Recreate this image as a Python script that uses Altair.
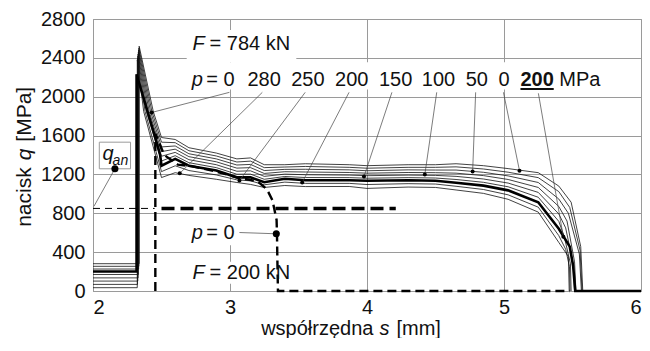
import altair as alt
import pandas as pd

# ---------------- data ----------------
# common s-grid of the plateau part of the F = 784 kN curves
S_MID = [2.50, 2.60, 2.70, 2.90, 3.05, 3.15, 3.25, 3.40, 3.55, 3.87, 4.00, 4.30, 4.50, 4.65, 4.85, 5.03, 5.25, 5.40]

Q_T  = [1580, 1560, 1475, 1420, 1360, 1370, 1300, 1300, 1310, 1300, 1290, 1300, 1300, 1310, 1290, 1260, 1218, 1080]
Q_L1 = [1532, 1527, 1444, 1390, 1328, 1337, 1270, 1276, 1282, 1273, 1264, 1273, 1273, 1278, 1256, 1223, 1167, 1023]
Q_L2 = [1483, 1493, 1413, 1360, 1297, 1303, 1240, 1252, 1253, 1247, 1238, 1247, 1245, 1245, 1222, 1185, 1117, 947]
Q_L3 = [1435, 1460, 1383, 1330, 1265, 1270, 1210, 1228, 1225, 1220, 1213, 1220, 1218, 1213, 1188, 1148, 1066, 870]
Q_L4 = [1387, 1427, 1352, 1300, 1233, 1237, 1180, 1203, 1197, 1193, 1187, 1193, 1190, 1180, 1153, 1111, 1015, 793]
Q_L5 = [1338, 1393, 1321, 1270, 1202, 1203, 1150, 1179, 1168, 1167, 1161, 1167, 1163, 1148, 1119, 1073, 965, 717]
Q_K  = [1290, 1360, 1290, 1240, 1170, 1170, 1120, 1155, 1140, 1140, 1135, 1140, 1135, 1115, 1085, 1036, 914, 640]
Q_L7 = [1229, 1289, 1240, 1195, 1144, 1134, 1093, 1121, 1108, 1108, 1096, 1105, 1101, 1078, 1045, 990, 863, 570]
Q_B  = [1168, 1218, 1190, 1150, 1117, 1097, 1066, 1086, 1075, 1076, 1056, 1070, 1066, 1040, 1005, 944, 812, 500]

CURVE_NAMES = ["T", "L1", "L2", "L3", "L4", "L5", "K", "L7", "B"]
LEFT_LEVEL  = [281, 254, 226, 170, 135, 102, 200, 68, 34]
JUMP_S      = [2.337, 2.335, 2.333, 2.331, 2.329, 2.327, 2.318, 2.325, 2.323]
PEAK_Q      = [2520, 2500, 2480, 2460, 2440, 2420, 2230, 2400, 2380]
FALL_PTS = [
    [(2.44, 1848)], [(2.43, 1848)], [(2.42, 1848)], [(2.41, 1848)],
    [(2.40, 1848)], [(2.39, 1848)], [(2.45, 1600), (2.49, 1400)],
    [(2.38, 1848)], [(2.37, 1848)],
]
MID_Q = [Q_T, Q_L1, Q_L2, Q_L3, Q_L4, Q_L5, Q_K, Q_L7, Q_B]
END_PTS = [
    [(5.49, 914), (5.56, 457), (5.575, 0)],
    [(5.48, 860), (5.555, 420), (5.57, 0)],
    [(5.47, 800), (5.55, 380), (5.565, 0)],
    [(5.46, 720), (5.515, 300), (5.525, 0)],
    [(5.45, 650), (5.505, 280), (5.515, 0)],
    [(5.44, 560), (5.485, 280), (5.49, 0)],
    [(5.48, 457), (5.505, 254), (5.52, 0), (6.0, 0)],
    [(5.45, 430), (5.478, 250), (5.482, 0)],
    [(5.47, 355), (5.476, 0)],
]

# F = 200 kN, p = 0 curve (dashed)
DASH_S = [2.455, 2.455, 2.52, 2.62, 2.72, 2.90, 3.06, 3.20, 3.27, 3.31, 3.34, 3.343, 3.345, 3.35, 5.48]
DASH_Q = [0, 1620, 1400, 1300, 1285, 1230, 1165, 1130, 1046, 934, 731, 589, 386, 0, 0]

# q_an level
QAN_LEVEL = 850
QAN_THICK_S = [2.50, 4.21]
QAN_THIN_S = [2.0, 2.45]

# leader lines: label end -> dot on curve
LEAD_S0 = [2.996, 3.236, 3.549, 3.869, 4.182, 4.509, 4.793, 4.996, 5.251]
LEAD_Q0 = [2045, 2045, 2045, 2045, 2045, 2045, 2045, 2045, 2035]
DOT_S = [2.429, 2.633, 3.069, 3.527, 3.978, 4.422, 4.771, 5.113, 5.433]
DOT_Q = [1838, 1211, 1137, 1117, 1178, 1198, 1229, 1239, 558]

BIG_DOT_S = [2.16, 3.338]
BIG_DOT_Q = [1258, 589]
BIG_LEAD_S0 = [2.16, 3.069]
BIG_LEAD_Q0 = [1258, 602]
BIG_LEAD_S1 = [2.007, 3.338]
BIG_LEAD_Q1 = [872, 589]

# white backgrounds behind labels
BG_S1 = [2.684, 2.655, 2.70, 2.70]
BG_S2 = [3.484, 5.709, 3.45, 3.07]
BG_Q1 = [2354, 2075, 75, 470]
BG_Q2 = [2688, 2354, 300, 730]

# text labels
REG_TEXT = ["= 784 kN", "= 0", "280", "250", "200", "150", "100", "50", "0", "MPa", "= 0", "= 200 kN"]
REG_S    = [2.851, 2.826, 3.127, 3.447, 3.767, 4.087, 4.40, 4.72, 4.96, 5.404, 2.826, 2.851]
REG_Q    = [2486, 2107, 2107, 2107, 2107, 2107, 2107, 2107, 2107, 2107, 531, 119]
ITA_TEXT = ["F", "p", "p", "F", "q"]
ITA_S    = [2.727, 2.72, 2.72, 2.727, 2.07]
ITA_Q    = [2486, 2107, 531, 119, 1352]
BOLD_TEXT = ["200"]
BOLD_S = [5.12]
BOLD_Q = [2107]
SUB_TEXT = ["an"]
SUB_S = [2.143]
SUB_Q = [1302]

# axis titles (pieces, to allow italic symbols)
XT_LEFT, XT_SYM, XT_RIGHT = "współrzędna", "s", "[mm]"
XT_S = [4.047, 4.127, 4.215]
XT_Q = -458
YT_LEFT, YT_SYM, YT_RIGHT = "nacisk", "q", "[MPa]"
YT_S = 1.549
YT_Q = [1273, 1405, 1537]

FONT = "Liberation Sans"
GRID = "#9a9a9a"

# ---------------- build tables ----------------
rows = []
for k, name in enumerate(CURVE_NAMES):
    pts = [(2.0, LEFT_LEVEL[k]), (JUMP_S[k], LEFT_LEVEL[k]), (JUMP_S[k], PEAK_Q[k])]
    pts += FALL_PTS[k] + list(zip(S_MID, MID_Q[k])) + END_PTS[k]
    for i, (s, q) in enumerate(pts):
        rows.append({"curve": name, "i": i, "s": s, "q": q})
curves = pd.DataFrame(rows)
thin = curves[curves.curve != "K"]
bold = curves[curves.curve == "K"]

dash = pd.DataFrame({"s": DASH_S, "q": DASH_Q, "i": range(len(DASH_S))})
qan_thick = pd.DataFrame({"s": QAN_THICK_S, "q": [QAN_LEVEL] * 2})
qan_thin = pd.DataFrame({"s": QAN_THIN_S, "q": [QAN_LEVEL] * 2})
leads = pd.DataFrame({"s": LEAD_S0, "q": LEAD_Q0, "s2": DOT_S, "q2": DOT_Q})
big_leads = pd.DataFrame({"s": BIG_LEAD_S0, "q": BIG_LEAD_Q0, "s2": BIG_LEAD_S1, "q2": BIG_LEAD_Q1})
dots = pd.DataFrame({"s": DOT_S, "q": DOT_Q})
big_dots = pd.DataFrame({"s": BIG_DOT_S, "q": BIG_DOT_Q})
bgs = pd.DataFrame({"s": BG_S1, "s2": BG_S2, "q": BG_Q1, "q2": BG_Q2})
qan_box = pd.DataFrame({"s": [2.046], "s2": [2.274], "q": [1258], "q2": [1532]})
reg = pd.DataFrame({"s": REG_S, "q": REG_Q, "t": REG_TEXT})
ita = pd.DataFrame({"s": ITA_S, "q": ITA_Q, "t": ITA_TEXT})
bld = pd.DataFrame({"s": BOLD_S, "q": BOLD_Q, "t": BOLD_TEXT})
sub = pd.DataFrame({"s": SUB_S, "q": SUB_Q, "t": SUB_TEXT})
underline = pd.DataFrame({"s": [5.12], "s2": [5.363], "q": [2080]})

xt_l = pd.DataFrame({"s": [XT_S[0]], "q": [XT_Q], "t": [XT_LEFT]})
xt_m = pd.DataFrame({"s": [XT_S[1]], "q": [XT_Q], "t": [XT_SYM]})
xt_r = pd.DataFrame({"s": [XT_S[2]], "q": [XT_Q], "t": [XT_RIGHT]})
yt_l = pd.DataFrame({"s": [YT_S], "q": [YT_Q[0]], "t": [YT_LEFT]})
yt_m = pd.DataFrame({"s": [YT_S], "q": [YT_Q[1]], "t": [YT_SYM]})
yt_r = pd.DataFrame({"s": [YT_S], "q": [YT_Q[2]], "t": [YT_RIGHT]})

# ---------------- encodings ----------------
X = alt.X("s:Q", scale=alt.Scale(domain=[2, 6], nice=False, zero=False),
          axis=alt.Axis(values=[2, 2.5, 3, 3.5, 4, 4.5, 5, 5.5, 6], format="d",
                        labelExpr="datum.value % 1 === 0 ? datum.label : ''",
                        title="", labelPadding=6))
Y = alt.Y("q:Q", scale=alt.Scale(domain=[0, 2800], nice=False),
          axis=alt.Axis(values=list(range(0, 2801, 400)), format="d", title="", labelPadding=8))

bg_layer = alt.Chart(bgs).mark_rect(fill="white").encode(x=X, x2="s2", y=Y, y2="q2")
thin_layer = alt.Chart(thin).mark_line(color="#111", strokeWidth=0.8).encode(
    x=X, y=Y, detail="curve:N", order="i:Q")
bold_layer = alt.Chart(bold).mark_line(color="#000", strokeWidth=2.6).encode(x=X, y=Y, order="i:Q")
dash_layer = alt.Chart(dash).mark_line(color="#000", strokeWidth=2.4, strokeDash=[9, 5]).encode(
    x=X, y=Y, order="i:Q")
qan_thick_layer = alt.Chart(qan_thick).mark_line(color="#000", strokeWidth=3.6, strokeDash=[13, 6]).encode(x=X, y=Y)
qan_thin_layer = alt.Chart(qan_thin).mark_line(color="#000", strokeWidth=1, strokeDash=[7, 5]).encode(x=X, y=Y)
lead_layer = alt.Chart(leads).mark_rule(color="#444", strokeWidth=0.7).encode(x=X, x2="s2", y=Y, y2="q2")
big_lead_layer = alt.Chart(big_leads).mark_rule(color="#444", strokeWidth=0.7).encode(x=X, x2="s2", y=Y, y2="q2")
dot_layer = alt.Chart(dots).mark_circle(color="#000", size=16, opacity=1).encode(x=X, y=Y)
qan_box_layer = alt.Chart(qan_box).mark_rect(fill="white", stroke=GRID, strokeWidth=1).encode(
    x=X, x2="s2", y=Y, y2="q2")
big_dot_layer = alt.Chart(big_dots).mark_circle(color="#000", size=50, opacity=1).encode(x=X, y=Y)

tkw = dict(font=FONT, baseline="alphabetic", color="#111")
reg_layer = alt.Chart(reg).mark_text(fontSize=20, align="left", **tkw).encode(x=X, y=Y, text="t:N")
ita_layer = alt.Chart(ita).mark_text(fontSize=20, fontStyle="italic", align="left", **tkw).encode(
    x=X, y=Y, text="t:N")
bld_layer = alt.Chart(bld).mark_text(fontSize=20, fontWeight="bold", align="left", **tkw).encode(
    x=X, y=Y, text="t:N")
sub_layer = alt.Chart(sub).mark_text(fontSize=14, fontStyle="italic", align="left", **tkw).encode(
    x=X, y=Y, text="t:N")
ul_layer = alt.Chart(underline).mark_rule(color="#111", strokeWidth=2).encode(x=X, x2="s2", y=Y)

XTS = 20
YTS = 21
xt_layers = [
    alt.Chart(xt_l).mark_text(fontSize=XTS, align="right", **tkw).encode(x=X, y=Y, text="t:N"),
    alt.Chart(xt_m).mark_text(fontSize=XTS, align="center", fontStyle="italic", **tkw).encode(x=X, y=Y, text="t:N"),
    alt.Chart(xt_r).mark_text(fontSize=XTS, align="left", **tkw).encode(x=X, y=Y, text="t:N"),
]
yt_layers = [
    alt.Chart(yt_l).mark_text(fontSize=YTS, angle=270, align="right", **tkw).encode(x=X, y=Y, text="t:N"),
    alt.Chart(yt_m).mark_text(fontSize=YTS, angle=270, align="center", fontStyle="italic", **tkw).encode(
        x=X, y=Y, text="t:N"),
    alt.Chart(yt_r).mark_text(fontSize=YTS, angle=270, align="left", **tkw).encode(x=X, y=Y, text="t:N"),
]

chart = alt.layer(
    bg_layer, thin_layer, bold_layer, dash_layer, qan_thick_layer, qan_thin_layer,
    lead_layer, big_lead_layer, dot_layer, qan_box_layer, big_dot_layer,
    reg_layer, ita_layer, bld_layer, sub_layer, ul_layer,
    *xt_layers, *yt_layers,
).properties(
    width=548, height=272,
    autosize=alt.AutoSizeParams(type="none"),
    padding={"left": 85, "top": 11, "right": 1, "bottom": 47},
    background="white",
).configure_axis(
    grid=True, gridColor=GRID, gridWidth=1, gridOpacity=1,
    domainColor=GRID, domainWidth=1, ticks=False,
    labelFont=FONT, labelFontSize=20, labelColor="#111",
).configure_view(stroke=GRID, strokeWidth=1)

chart.save("out.html", embed_options={"renderer": "svg", "actions": False})
